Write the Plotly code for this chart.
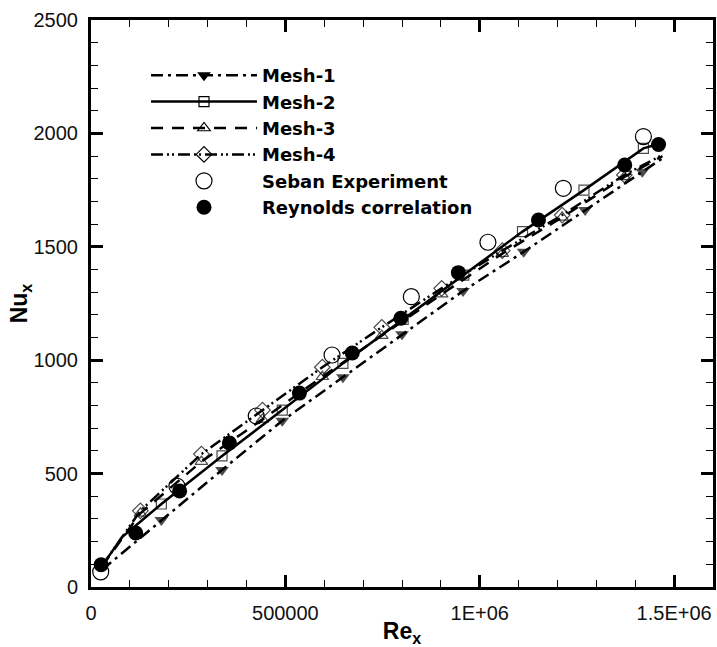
import plotly.graph_objects as go

# ---- data ----
mesh1_re = [28000, 181000, 337000, 492000, 648000, 800000, 957000, 1113000, 1271000, 1418000, 1468000]
mesh1_nu = [75, 295, 516, 733, 925, 1114, 1305, 1478, 1662, 1831, 1888]
mesh1_mk = [0, 1, 1, 1, 1, 1, 1, 1, 1, 1, 0]

mesh2_re = [28000, 80000, 181000, 337000, 492000, 648000, 803000, 959000, 1110000, 1268000, 1421000, 1468000]
mesh2_nu = [92, 220, 366, 578, 780, 986, 1180, 1375, 1567, 1750, 1934, 1958]
mesh2_mk = [0, 0, 1, 1, 1, 1, 1, 1, 1, 1, 1, 0]

mesh3_re = [28000, 127000, 284000, 441000, 595000, 748000, 902000, 1058000, 1212000, 1372000, 1470000]
mesh3_nu = [90, 325, 553, 739, 927, 1108, 1291, 1470, 1630, 1808, 1900]
mesh3_mk = [0, 1, 1, 1, 1, 1, 1, 1, 1, 1, 0]

mesh4_re = [28000, 127000, 284000, 441000, 595000, 748000, 902000, 1058000, 1212000, 1372000, 1470000]
mesh4_nu = [92, 336, 586, 780, 969, 1145, 1317, 1483, 1640, 1817, 1905]
mesh4_mk = [0, 1, 1, 1, 1, 1, 1, 1, 1, 1, 0]

seban_re = [25000, 221000, 425000, 620000, 824000, 1021000, 1215000, 1421000]
seban_nu = [67, 445, 754, 1023, 1280, 1520, 1758, 1986]

reyn_re = [26000, 115000, 228000, 356000, 536000, 672000, 797000, 945000, 1151000, 1373000, 1460000]
reyn_nu = [98, 238, 423, 635, 855, 1032, 1185, 1386, 1618, 1861, 1951]

x_tickvals = [0, 500000, 1000000, 1500000]
x_ticktext = ["0", "500000", "1E+06", "1.5E+06"]
y_tickvals = [0, 500, 1000, 1500, 2000, 2500]

FONT = "Liberation Sans, Arial"
LEGFONT = "DejaVu Sans, Liberation Sans, Arial"
fig = go.Figure()

def add_mesh(name, xs, ys, mk, symbol, size, dash, filled):
    sizes = [size if m else 0 for m in mk]
    mcolor = "black" if filled else "rgba(0,0,0,0)"
    mline = dict(color="black", width=0 if filled else 1.2)
    line = dict(color="black", width=2.5, dash=dash)
    # data trace
    fig.add_trace(go.Scatter(
        x=xs, y=ys, name=name, mode="lines+markers", showlegend=False,
        line=line, marker=dict(symbol=symbol, size=sizes, color=mcolor, line=mline),
    ))
    # legend entry (no data)
    fig.add_trace(go.Scatter(
        x=[None], y=[None], name="<b>" + name + "</b>", mode="lines+markers",
        line=line, marker=dict(symbol=symbol, size=size, color=mcolor, line=mline),
    ))

add_mesh("Mesh-1", mesh1_re, mesh1_nu, mesh1_mk, "triangle-down", 12, "12px,5px,3px,5px", True)
add_mesh("Mesh-2", mesh2_re, mesh2_nu, mesh2_mk, "square", 10, "solid", False)
add_mesh("Mesh-3", mesh3_re, mesh3_nu, mesh3_mk, "triangle-up", 11, "12px,9px", False)
add_mesh("Mesh-4", mesh4_re, mesh4_nu, mesh4_mk, "diamond", 12, "12px,4px,2px,3px,2px,4px", False)

fig.add_trace(go.Scatter(
    x=seban_re, y=seban_nu, name="<b>Seban Experiment</b>", mode="markers",
    marker=dict(symbol="circle", size=16, color="rgba(0,0,0,0)",
                line=dict(color="black", width=1.2)),
))
fig.add_trace(go.Scatter(
    x=reyn_re, y=reyn_nu, name="<b>Reynolds correlation</b>", mode="markers",
    marker=dict(symbol="circle", size=15, color="black", line=dict(width=0)),
))

axis_common = dict(
    showline=True, linecolor="black", linewidth=3, mirror="ticks",
    ticks="inside", ticklen=12, tickwidth=2.5, tickcolor="black",
    showgrid=False, zeroline=False,
    tickfont=dict(family=FONT, size=20, color="#111"),
)

fig.update_xaxes(
    range=[0, 1600000], tickvals=x_tickvals, ticktext=x_ticktext,
    minor=dict(ticks="inside", ticklen=7, tickwidth=1.2, tickcolor="black", dtick=100000, tick0=0),
    title=dict(text="<b>Re<sub>x</sub></b>", font=dict(family=FONT, size=23, color="black"), standoff=4),
    ticklabelstandoff=6,
    **axis_common,
)
fig.update_yaxes(
    range=[0, 2500], tickvals=y_tickvals,
    minor=dict(ticks="inside", ticklen=7, tickwidth=1.2, tickcolor="black", dtick=100, tick0=0),
    title=dict(text="<b>Nu<sub>x</sub></b>", font=dict(family=FONT, size=23, color="black"), standoff=0),
    ticklabelstandoff=6,
    **axis_common,
)

fig.update_layout(
    width=717, height=647,
    margin=dict(l=91, r=4, t=20, b=60, autoexpand=False),
    plot_bgcolor="white", paper_bgcolor="white",
    showlegend=True,
    legend=dict(
        x=(146 - 91) / (713 - 91), y=1 - (57 - 20) / (587 - 20),
        xanchor="left", yanchor="top",
        bgcolor="rgba(0,0,0,0)", borderwidth=0,
        font=dict(family=LEGFONT, size=18, color="black"),
        itemwidth=106, tracegroupgap=0,
    ),
)

fig.write_html("out.html")
